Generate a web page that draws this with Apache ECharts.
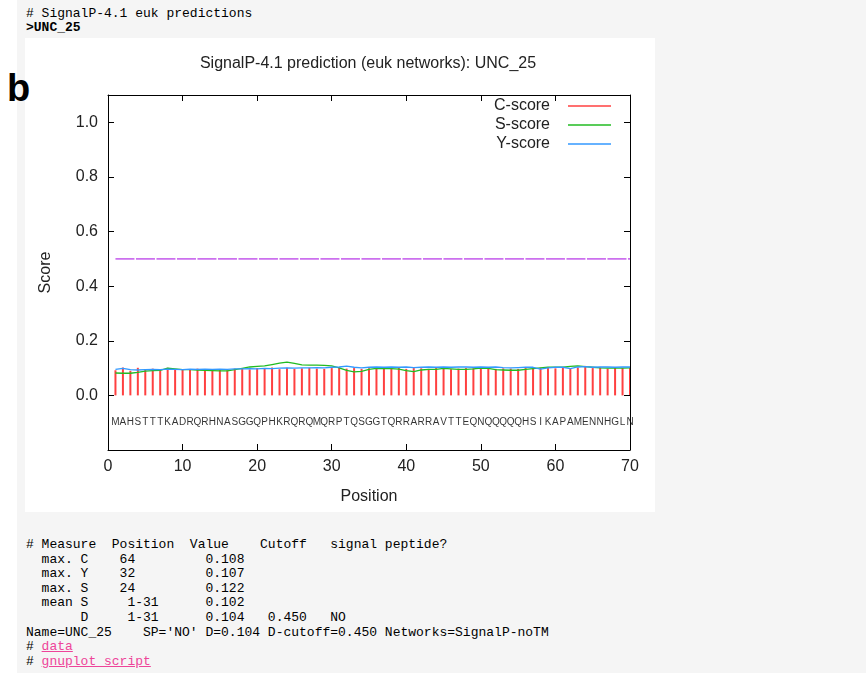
<!DOCTYPE html>
<html><head><meta charset="utf-8">
<script src="https://cdn.jsdelivr.net/npm/echarts@6/dist/echarts.min.js"></script>
<style>
html,body{margin:0;padding:0;background:#fff;width:866px;height:673px;overflow:hidden}
#bg{position:absolute;left:17px;top:0;width:849px;height:673px;background:#f5f5f5}
#panel{position:absolute;left:25px;top:38px;width:630px;height:474px;background:#fff}
pre{position:absolute;margin:0;font-family:"Liberation Mono",monospace;font-size:13px;line-height:14.6px;color:#000}
#top{left:26px;top:6.5px}
#bot{left:26px;top:538px}
a{color:#ee4499;text-decoration:underline}
#blab{position:absolute;left:7px;top:69px;font:bold 38px/38px "Liberation Sans",Arial,sans-serif;color:#000}
#c{position:absolute;left:0;top:0;width:866px;height:673px}
</style>
</head><body>
<div id="bg"></div><div id="panel"></div>
<pre id="top"># SignalP-4.1 euk predictions
<b>&gt;UNC_25</b></pre>
<pre id="bot"># Measure  Position  Value    Cutoff   signal peptide?
  max. C    64         0.108
  max. Y    32         0.107
  max. S    24         0.122
  mean S     1-31      0.102
       D     1-31      0.104   0.450   NO
Name=UNC_25    SP='NO' D=0.104 D-cutoff=0.450 Networks=SignalP-noTM
# <a>data</a>
# <a>gnuplot script</a></pre>
<div id="blab">b</div>
<div id="c"></div>
<script>
const sequence = "MAHSTTTKADRQRHNASGGQPHKRQRQMQRPTQSGGTQRRARRAVTTEQNQQQQQHSIKAPAMENNHGLN".split('');
const cScore = [0.092,0.102,0.090,0.101,0.095,0.098,0.095,0.101,0.095,0.095,
  0.096,0.098,0.095,0.095,0.095,0.092,0.098,0.100,0.095,0.100,
  0.100,0.102,0.096,0.101,0.097,0.099,0.101,0.098,0.097,0.100,
  0.102,0.098,0.100,0.097,0.099,0.101,0.098,0.100,0.101,0.097,
  0.100,0.099,0.097,0.100,0.099,0.096,0.098,0.100,0.099,0.100,
  0.101,0.097,0.099,0.098,0.097,0.100,0.098,0.101,0.100,0.099,
  0.101,0.100,0.102,0.108,0.100,0.102,0.098,0.101,0.100,0.101];
const sScore = [0.082,0.081,0.081,0.084,0.089,0.091,0.092,0.100,0.097,0.094,
  0.094,0.093,0.092,0.091,0.090,0.090,0.094,0.099,0.104,0.106,
  0.108,0.113,0.118,0.122,0.117,0.112,0.111,0.111,0.110,0.108,
  0.101,0.092,0.086,0.088,0.095,0.099,0.098,0.098,0.096,0.091,
  0.087,0.093,0.095,0.095,0.099,0.097,0.095,0.095,0.097,0.100,
  0.099,0.094,0.093,0.092,0.092,0.095,0.098,0.101,0.103,0.103,
  0.103,0.106,0.108,0.105,0.103,0.101,0.100,0.100,0.100,0.101];
const yScore = [0.095,0.099,0.094,0.093,0.094,0.095,0.094,0.096,0.095,0.094,
  0.096,0.095,0.096,0.095,0.096,0.095,0.097,0.097,0.098,0.097,
  0.099,0.098,0.100,0.101,0.100,0.101,0.101,0.102,0.101,0.103,
  0.104,0.107,0.103,0.101,0.103,0.104,0.103,0.104,0.103,0.104,
  0.102,0.103,0.104,0.103,0.104,0.103,0.104,0.104,0.103,0.104,
  0.103,0.104,0.102,0.101,0.102,0.103,0.103,0.096,0.101,0.103,
  0.103,0.098,0.104,0.105,0.103,0.104,0.104,0.103,0.104,0.104];
const cutoffX = [1, 70];
const cutoffY = 0.5;
const seqY = -0.1;
const xMin = 0, xMax = 70, xStep = 10;
const yMin = -0.2, yMax = 1.1, yStep = 0.2;

const F = '"Liberation Sans", Arial, sans-serif';
const TC = '#222';
const FS = 16;
const chart = echarts.init(document.getElementById('c'), null, {renderer:'canvas'});
const axLine = {show:true, onZero:false, lineStyle:{color:'#000', width:1}};
const axTick = {show:true, inside:true, length:6, lineStyle:{color:'#000', width:1}};
chart.setOption({
  animation:false,
  backgroundColor:'transparent',
  grid:{left:108, right:236, top:95, bottom:223, containLabel:false},
  graphic:[{type:'text', x:368, y:64, style:{text:'SignalP-4.1 prediction (euk networks): UNC_25', font:FS+'px '+F, fill:TC, textAlign:'center', textVerticalAlign:'middle'}}],
  legend:{orient:'vertical', right:250, top:93, align:'right', itemWidth:43, itemHeight:1.5, itemGap:3, icon:'rect', selectedMode:false,
    data:['C-score','S-score','Y-score'],
    textStyle:{fontSize:FS, fontFamily:F, color:TC, padding:[0,13,0,0]}},
  xAxis:[
    {type:'value', min:xMin, max:xMax, interval:xStep, position:'bottom', axisLine:axLine, axisTick:axTick, splitLine:{show:false},
     axisLabel:{fontSize:FS, fontFamily:F, color:TC, margin:9},
     name:'Position', nameLocation:'middle', nameGap:39, nameTextStyle:{fontSize:FS, fontFamily:F, color:TC}, z:5},
    {type:'value', min:xMin, max:xMax, interval:xStep, position:'top', axisLine:axLine, axisTick:axTick, splitLine:{show:false}, axisLabel:{show:false}, z:5}
  ],
  yAxis:[
    {type:'value', min:yMin, max:yMax, interval:yStep, position:'left', axisLine:axLine, axisTick:axTick, splitLine:{show:false},
     axisLabel:{fontSize:FS, fontFamily:F, color:TC, margin:10, formatter:v => (v < -0.1 || v > 1.05) ? '' : v.toFixed(1)},
     name:'Score', nameLocation:'middle', nameGap:54, nameTextStyle:{fontSize:FS, fontFamily:F, color:TC}, z:5},
    {type:'value', min:yMin, max:yMax, interval:yStep, position:'right', axisLine:axLine, axisTick:axTick, splitLine:{show:false}, axisLabel:{show:false}, z:5}
  ],
  series:[
    {name:'C-score', type:'bar', barWidth:2, silent:true, itemStyle:{color:'#ff4040'},
     data:cScore.map((v,i)=>[i+1, v])},
    {name:'S-score', type:'line', showSymbol:false, symbol:'none', silent:true, lineStyle:{color:'#22bb22', width:1.3}, itemStyle:{color:'#22bb22'},
     data:sScore.map((v,i)=>[i+1, v])},
    {name:'Y-score', type:'line', showSymbol:false, symbol:'none', silent:true, lineStyle:{color:'#3399ff', width:1.3}, itemStyle:{color:'#3399ff'},
     data:yScore.map((v,i)=>[i+1, v])},
    {name:'cutoff', type:'line', symbol:'none', silent:true, lineStyle:{color:'#cc70ee', width:1.6, type:[19,1.5]},
     data:cutoffX.map(x=>[x, cutoffY])},
    {name:'seq', type:'scatter', symbol:'circle', symbolSize:2, silent:true, itemStyle:{color:'rgba(0,0,0,0)'},
     labelLayout:{hideOverlap:false},
     label:{show:true, position:'inside', offset:[0,2], formatter:p => sequence[p.dataIndex], fontSize:10, fontFamily:F, color:'#000'},
     data:sequence.map((c,i)=>[i+1, seqY])}
  ]
});
</script>
</body></html>
